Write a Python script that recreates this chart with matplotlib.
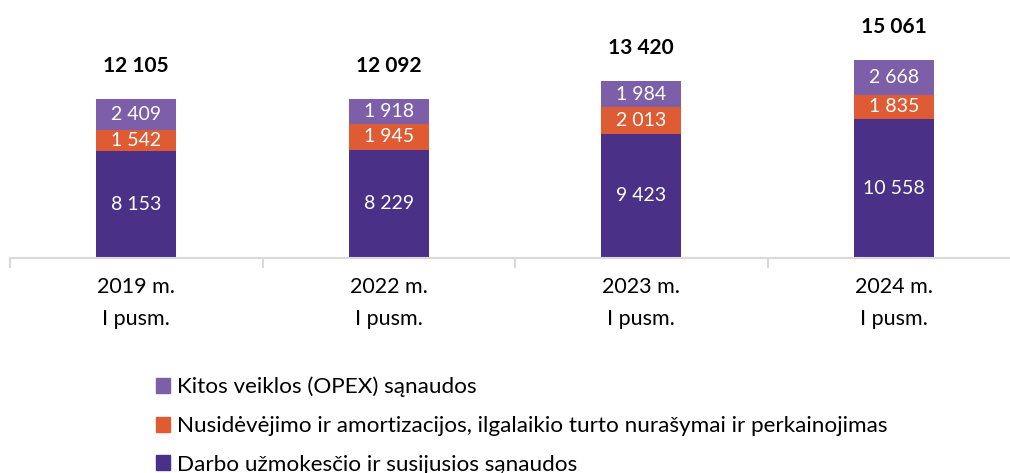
import matplotlib
matplotlib.use('Agg')
import matplotlib.pyplot as plt
from matplotlib.patches import Patch
import numpy as np

plt.rcParams['font.family'] = ['Lato', 'DejaVu Sans']

categories = ['2019 m.\nI pusm.', '2022 m.\nI pusm.', '2023 m.\nI pusm.', '2024 m.\nI pusm.']
darbo = [8153, 8229, 9423, 10558]
nusidevejimas = [1542, 1945, 2013, 1835]
kitos = [2409, 1918, 1984, 2668]
totals = [12105, 12092, 13420, 15061]

labels = ['Darbo užmokesčio ir susijusios sąnaudos',
          'Nusidėvėjimo ir amortizacijos, ilgalaikio turto nurašymai ir perkainojimas',
          'Kitos veiklos (OPEX) sąnaudos']
colors = ['#4B3088', '#DE5B34', '#7D5EA8']


def fmt(v):
    return f'{v:,}'.replace(',', ' ')


fig = plt.figure(figsize=(10.1, 4.73), dpi=100)
ax = fig.add_axes([10 / 1010, 215 / 473, 1.0, 258 / 473])

x = np.arange(len(categories))
w = 0.317
bottom = np.zeros(len(x))
for vals, c in zip([darbo, nusidevejimas, kitos], colors):
    bars = ax.bar(x, vals, w, bottom=bottom, color=c, zorder=2)
    for b, v in zip(bars, vals):
        ax.text(b.get_x() + b.get_width() / 2, b.get_y() + b.get_height() / 2,
                fmt(v), ha='center', va='center', color='white', fontsize=14)
    bottom += np.array(vals)

for xi, t in zip(x, totals):
    ax.annotate(fmt(t), (xi, t), xytext=(0, 33), textcoords='offset pixels',
                ha='center', va='center', fontsize=15, fontweight='bold', color='black')

ax.set_xlim(-0.5, 3.5)
ax.set_ylim(0, 19590)
for s in ['top', 'right', 'left']:
    ax.spines[s].set_visible(False)
ax.spines['bottom'].set_color('#D9D9D9')
ax.spines['bottom'].set_linewidth(1.5)
ax.set_yticks([])
ax.set_xticks(np.arange(-0.5, 4, 1))
ax.set_xticklabels([])
ax.set_xticks(x, minor=True)
ax.set_xticklabels(categories, minor=True, fontsize=15.5, linespacing=1.7)
ax.tick_params(axis='x', which='major', length=7, width=1.5, color='#D9D9D9')
ax.tick_params(axis='x', which='minor', length=0, pad=14)

handles = [Patch(color=colors[i]) for i in [2, 1, 0]]
fig.legend(handles, [labels[i] for i in [2, 1, 0]], loc='upper left',
           bbox_to_anchor=(140 / 1010, 1 - 361 / 473), frameon=False,
           fontsize=16.2, handlelength=0.65, handleheight=0.65, handletextpad=0.3,
           labelspacing=0.83, borderaxespad=0.3)

fig.savefig('out.png', dpi=100)
